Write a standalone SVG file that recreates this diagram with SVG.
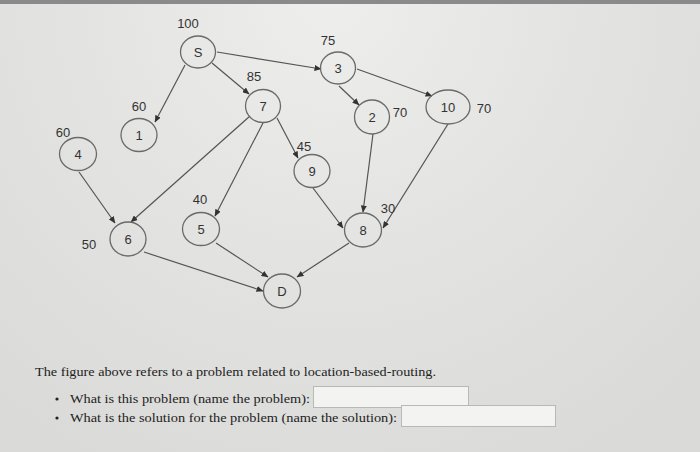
<svg xmlns="http://www.w3.org/2000/svg" width="700" height="452" viewBox="0 0 700 452">
<defs>
<radialGradient id="bg" cx="330" cy="0" r="520" gradientUnits="userSpaceOnUse">
<stop offset="0" stop-color="#eeeeec"/>
<stop offset="0.5" stop-color="#e3e3e1"/>
<stop offset="1" stop-color="#dadad8"/>
</radialGradient>
<marker id="arr" markerWidth="7" markerHeight="6" refX="6.5" refY="3" orient="auto" markerUnits="userSpaceOnUse">
<path d="M0,0 L7,3 L0,6 Z" fill="#333"/>
</marker>
<style>
.n ellipse{fill:none;stroke:#6a6a6a;stroke-width:1.3}
.n text,.w{font-family:"Liberation Sans","DejaVu Sans",sans-serif;font-size:13px;fill:#333;text-anchor:middle;dominant-baseline:central}
#edges line{stroke:#555;stroke-width:1.2;marker-end:url(#arr)}
.q{font-family:"Liberation Serif","DejaVu Serif",serif;font-size:13px;fill:#222}
.box{fill:#f3f3f2;stroke:#b8b8b8;stroke-width:1}
</style>
</defs>
<rect width="700" height="452" fill="url(#bg)"/>
<rect width="700" height="4" fill="#8a8a8a"/>

<g id="edges">
<line x1="185" y1="65" x2="155" y2="122"/>
<line x1="212" y1="63" x2="249" y2="94"/>
<line x1="217" y1="52" x2="321" y2="69"/>
<line x1="339" y1="86" x2="359" y2="105"/>
<line x1="357" y1="69" x2="432" y2="96"/>
<line x1="277" y1="118" x2="298" y2="158"/>
<line x1="250" y1="116" x2="131" y2="222"/>
<line x1="263" y1="123" x2="215" y2="216"/>
<line x1="79" y1="172" x2="115" y2="223"/>
<line x1="144" y1="252" x2="263" y2="291"/>
<line x1="216" y1="243" x2="268" y2="277"/>
<line x1="313" y1="188" x2="343" y2="228"/>
<line x1="373" y1="134" x2="363" y2="212"/>
<line x1="448" y1="124" x2="383" y2="228"/>
<line x1="349" y1="243" x2="297" y2="277"/>
</g>

<g id="node-S" class="n"><ellipse cx="198" cy="52" rx="17.5" ry="16"/><text x="198" y="52">S</text></g>
<g id="node-7" class="n"><ellipse cx="263" cy="106" rx="17.5" ry="16.5"/><text x="263" y="106">7</text></g>
<g id="node-1" class="n"><ellipse cx="139" cy="135" rx="18" ry="16.5"/><text x="139" y="135">1</text></g>
<g id="node-4" class="n"><ellipse cx="78" cy="154" rx="18.5" ry="16.5"/><text x="78" y="154">4</text></g>
<g id="node-3" class="n"><ellipse cx="338" cy="68" rx="17.5" ry="16"/><text x="338" y="68">3</text></g>
<g id="node-2" class="n"><ellipse cx="372" cy="117" rx="17.5" ry="17"/><text x="372" y="117">2</text></g>
<g id="node-10" class="n"><ellipse cx="448" cy="107" rx="22" ry="17"/><text x="448" y="107">10</text></g>
<g id="node-9" class="n"><ellipse cx="312" cy="171" rx="18" ry="16.5"/><text x="312" y="171">9</text></g>
<g id="node-8" class="n"><ellipse cx="363" cy="230" rx="18.5" ry="17"/><text x="363" y="230">8</text></g>
<g id="node-D" class="n"><ellipse cx="282" cy="291" rx="18.5" ry="17"/><text x="282" y="291">D</text></g>
<g id="node-6" class="n"><ellipse cx="128" cy="239" rx="18" ry="17"/><text x="128" y="239">6</text></g>
<g id="node-5" class="n"><ellipse cx="201" cy="229" rx="18.5" ry="16.5"/><text x="201" y="229">5</text></g>

<g id="weights">
<text class="w" x="188" y="23">100</text>
<text class="w" x="254" y="76">85</text>
<text class="w" x="139" y="106">60</text>
<text class="w" x="63" y="132">60</text>
<text class="w" x="328" y="40">75</text>
<text class="w" x="400" y="112">70</text>
<text class="w" x="484" y="108">70</text>
<text class="w" x="304" y="146">45</text>
<text class="w" x="388" y="208">30</text>
<text class="w" x="200" y="199">40</text>
<text class="w" x="89" y="244">50</text>
</g>

<g id="question">
<text class="q" x="35" y="376" textLength="401" lengthAdjust="spacingAndGlyphs">The figure above refers to a problem related to location-based-routing.</text>
<circle cx="57" cy="399" r="1.6" fill="#222"/>
<circle cx="57" cy="418" r="1.6" fill="#222"/>
<text class="q" x="70" y="403" textLength="240" lengthAdjust="spacingAndGlyphs">What is this problem (name the problem):</text>
<text class="q" x="70" y="422" textLength="327" lengthAdjust="spacingAndGlyphs">What is the solution for the problem (name the solution):</text>
<rect class="box" x="313.5" y="386.5" width="155" height="21"/>
<rect class="box" x="401.5" y="405.5" width="154" height="21"/>
</g>
</svg>
